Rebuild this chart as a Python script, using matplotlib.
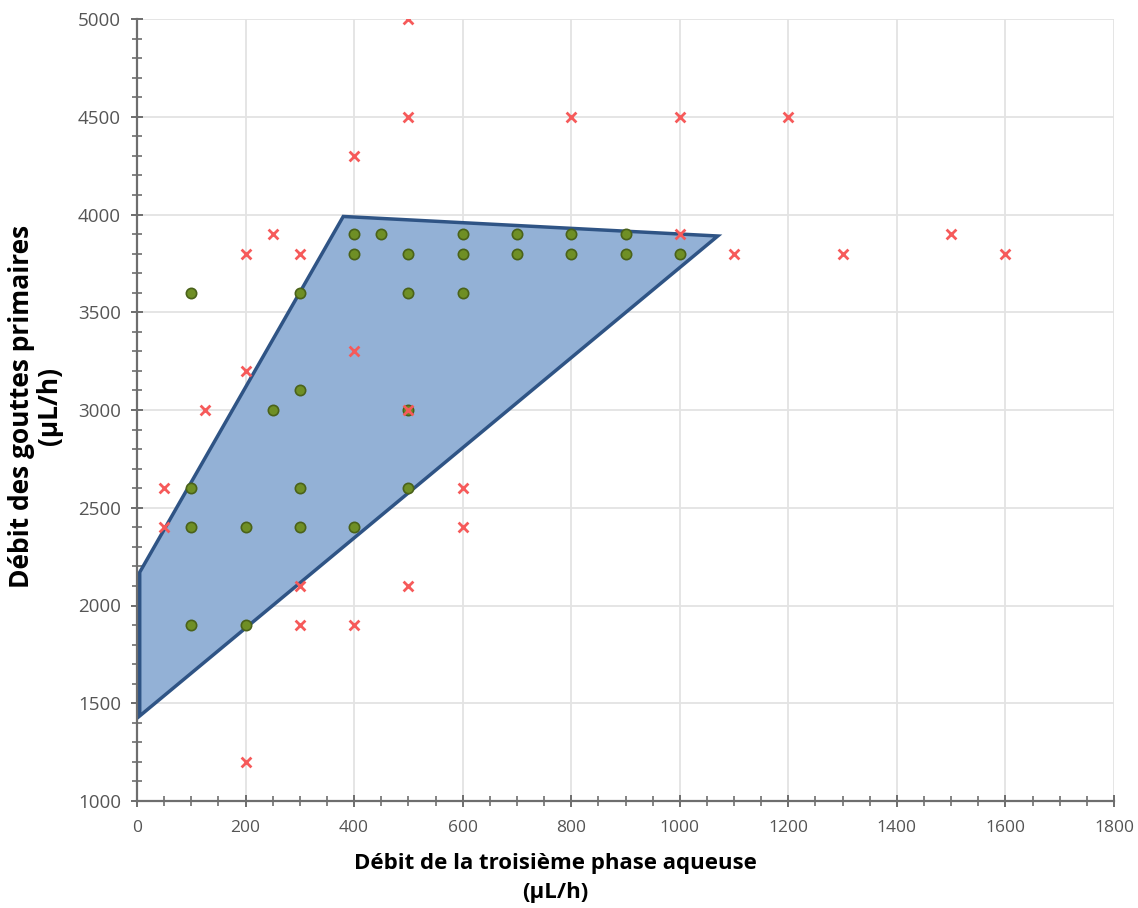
import matplotlib
matplotlib.use("Agg")
import matplotlib.pyplot as plt
from matplotlib.ticker import MultipleLocator
from matplotlib.patches import Polygon
import numpy as np

# Domain polygon (stable region)
poly_x = [5, 380, 1070, 5]
poly_y = [2170, 3990, 3890, 1435]

# Successful points (green circles)
ok_x = [400, 450, 600, 700, 800, 900,
        400, 500, 600, 700, 800, 900, 1000,
        100, 300, 500, 600,
        300,
        250, 500,
        100, 300, 500,
        100, 200, 300, 400,
        100, 200]
ok_y = [3900, 3900, 3900, 3900, 3900, 3900,
        3800, 3800, 3800, 3800, 3800, 3800, 3800,
        3600, 3600, 3600, 3600,
        3100,
        3000, 3000,
        2600, 2600, 2600,
        2400, 2400, 2400, 2400,
        1900, 1900]

# Failed points (red crosses)
ko_x = [500,
        500, 800, 1000, 1200,
        400,
        250, 1000, 1500,
        200, 300, 1100, 1300, 1600,
        400,
        200,
        125, 500,
        50, 600,
        50, 600,
        300, 500,
        300, 400,
        200]
ko_y = [5000,
        4500, 4500, 4500, 4500,
        4300,
        3900, 3900, 3900,
        3800, 3800, 3800, 3800, 3800,
        3300,
        3200,
        3000, 3000,
        2600, 2600,
        2400, 2400,
        2100, 2100,
        1900, 1900,
        1200]

x_label = "Débit de la troisième phase aqueuse\n(µL/h)"
y_label = "Débit des gouttes primaires\n(µL/h)"

fig = plt.figure(figsize=(11.38, 9.08), dpi=100)
ax = fig.add_axes([137/1138, 1-801/908, (1114-137)/1138, (801-19)/908])

ax.set_xlim(0, 1800)
ax.set_ylim(1000, 5000)

ax.xaxis.set_major_locator(MultipleLocator(200))
ax.xaxis.set_minor_locator(MultipleLocator(50))
ax.yaxis.set_major_locator(MultipleLocator(500))
ax.yaxis.set_minor_locator(MultipleLocator(100))

ax.grid(True, which='major', color='#e3e3e3', linewidth=1.3, zorder=0)
ax.set_axisbelow(True)

poly = Polygon(np.column_stack([poly_x, poly_y]), closed=True,
               facecolor='#93b1d6', edgecolor='#2f5485', linewidth=2.5, zorder=2)
ax.add_patch(poly)

ax.scatter(ok_x, ok_y, s=55, marker='o', facecolor='#6f8f25', edgecolor='#4a621a',
           linewidth=1.2, zorder=3)
ax.scatter(ko_x, ko_y, s=50, marker='x', color='#f65a5a', linewidth=2.0, zorder=4)

for s in ['top', 'right']:
    ax.spines[s].set_visible(False)
for s in ['left', 'bottom']:
    ax.spines[s].set_color('#6e6e6e')
    ax.spines[s].set_linewidth(1.6)
    ax.spines[s].set_zorder(5)

ax.tick_params(which='major', direction='inout', length=9, width=1.4, color='#6e6e6e')
ax.tick_params(which='minor', direction='inout', length=7, width=1.2, color='#6e6e6e')
ax.tick_params(axis='y', which='major', pad=7, labelsize=13.5, labelcolor='#555555')
ax.tick_params(axis='x', which='major', pad=9, labelsize=12.5, labelcolor='#555555')

for lab in ax.get_yticklabels():
    lab.set_family(['Open Sans', 'DejaVu Sans'])
for lab in ax.get_xticklabels():
    lab.set_family(['Liberation Sans Narrow', 'Open Sans', 'DejaVu Sans'])

ax.set_xlabel(x_label, fontsize=16, fontweight='bold', color='black',
              family=['Open Sans', 'DejaVu Sans'], linespacing=1.55)
ax.xaxis.set_label_coords((555-137)/977, -0.066, transform=ax.transAxes)
ax.xaxis.label.set_va('top')
ax.set_ylabel(y_label, fontsize=19, fontweight='bold', color='black',
              family=['Open Sans', 'DejaVu Sans'], linespacing=1.03)
ax.yaxis.set_label_coords(-0.076, 0.505, transform=ax.transAxes)

fig.savefig("out.png", dpi=100)
